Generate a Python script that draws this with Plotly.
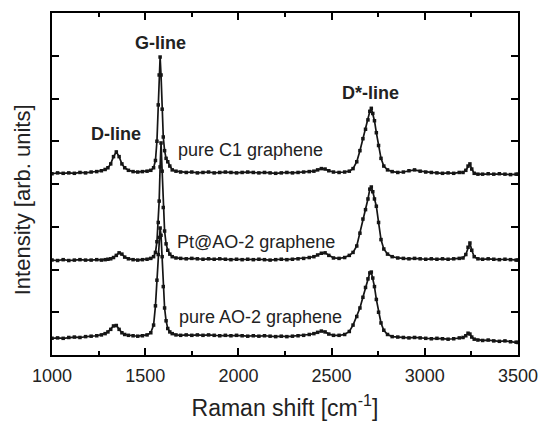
import plotly.graph_objects as go

# Raman shift grid (cm^-1)
raman_shift = [
    1000, 1030, 1060, 1090, 1120, 1150, 1180, 1210, 1240,
    1265, 1285, 1300, 1315, 1330, 1345, 1360, 1375, 1390, 1410,
    1435, 1460, 1485, 1510, 1530, 1545, 1555,
    1563, 1570, 1575, 1580, 1585, 1591, 1597, 1604, 1612, 1621, 1632, 1645,
    1665, 1690, 1720, 1750, 1780, 1810, 1840, 1870, 1900, 1930, 1960, 1990,
    2020, 2050, 2080, 2110, 2140, 2170, 2200, 2230, 2260, 2290, 2320, 2350, 2380,
    2405, 2425, 2445, 2465, 2485, 2510, 2540, 2570, 2595,
    2615, 2635, 2652, 2668, 2682, 2695, 2705, 2713, 2721, 2730, 2740, 2752, 2765, 2780, 2800, 2825,
    2855, 2885, 2915, 2945, 2975, 3005, 3035, 3065, 3095, 3125, 3155, 3185,
    3205, 3220, 3232, 3242, 3252, 3265, 3285,
    3310, 3340, 3370, 3400, 3430, 3460, 3490, 3500,
]

# pure C1 graphene (top, offset spectrum)
pure_c1 = [
    4.24, 4.26, 4.25, 4.26, 4.25, 4.27, 4.26, 4.28, 4.29,
    4.31, 4.34, 4.38, 4.47, 4.64, 4.75, 4.64, 4.47, 4.38, 4.32,
    4.29, 4.28, 4.29, 4.30, 4.32, 4.38, 4.55,
    5.00, 5.85, 6.55, 6.97, 6.55, 5.75, 5.10, 4.78, 4.60, 4.52, 4.42, 4.33,
    4.30, 4.28, 4.27, 4.28, 4.26, 4.27, 4.28, 4.26, 4.27, 4.28, 4.27, 4.26,
    4.27, 4.28, 4.27, 4.26, 4.27, 4.26, 4.25, 4.26, 4.27, 4.26, 4.27, 4.28, 4.29,
    4.30, 4.33, 4.36, 4.35, 4.31, 4.28, 4.27, 4.28, 4.30,
    4.36, 4.52, 4.78, 5.06, 5.28, 5.50, 5.70, 5.77, 5.65, 5.48, 5.20, 4.90, 4.60, 4.42, 4.33, 4.29,
    4.27, 4.28, 4.31, 4.33, 4.30, 4.28, 4.27, 4.26, 4.25, 4.26, 4.25, 4.27,
    4.27, 4.32, 4.42, 4.47, 4.35, 4.25, 4.23,
    4.23, 4.24, 4.23, 4.24, 4.23, 4.22, 4.23, 4.23,
]

# Pt@AO-2 graphene (middle)
pt_ao2 = [
    2.22, 2.21, 2.23, 2.21, 2.22, 2.23, 2.22, 2.22, 2.23,
    2.22, 2.23, 2.24, 2.25, 2.28, 2.33, 2.39, 2.36, 2.29, 2.25,
    2.23, 2.22, 2.23, 2.24, 2.26, 2.30, 2.40,
    2.65, 3.10, 3.60, 4.40, 4.96, 4.30, 3.45, 2.90, 2.60, 2.45, 2.36, 2.30,
    2.27, 2.26, 2.25, 2.26, 2.25, 2.24, 2.25, 2.24, 2.25, 2.24, 2.23, 2.24,
    2.23, 2.24, 2.23, 2.24, 2.23, 2.22, 2.23, 2.24, 2.23, 2.24, 2.25, 2.26, 2.28,
    2.30, 2.34, 2.38, 2.39, 2.33, 2.27, 2.26, 2.28, 2.33,
    2.40, 2.55, 2.85, 3.18, 3.40, 3.65, 3.88, 3.93, 3.82, 3.65, 3.48, 3.10, 2.70, 2.48, 2.36, 2.30,
    2.27, 2.26, 2.25, 2.26, 2.25, 2.24, 2.25, 2.24, 2.25, 2.24, 2.25, 2.26,
    2.27, 2.35, 2.52, 2.62, 2.45, 2.30, 2.25,
    2.24, 2.25, 2.24, 2.23, 2.24, 2.23, 2.22, 2.22,
]

# pure AO-2 graphene (bottom)
pure_ao2 = [
    0.39, 0.40, 0.39, 0.41, 0.42, 0.41, 0.43, 0.44, 0.45,
    0.47, 0.50, 0.54, 0.60, 0.68, 0.69, 0.60, 0.52, 0.48, 0.46,
    0.45, 0.44, 0.45, 0.47, 0.52, 0.70, 1.15,
    1.75, 2.35, 2.75, 2.97, 2.80, 2.30, 1.60, 1.10, 0.80, 0.62, 0.54, 0.50,
    0.47, 0.46, 0.47, 0.46, 0.47, 0.46, 0.47, 0.46, 0.45, 0.46, 0.45, 0.46,
    0.45, 0.44, 0.45, 0.44, 0.45, 0.44, 0.43, 0.44, 0.43, 0.44, 0.45, 0.46, 0.48,
    0.50, 0.53, 0.56, 0.54, 0.49, 0.46, 0.46, 0.48, 0.55,
    0.70, 0.90, 1.10, 1.35, 1.58, 1.78, 1.92, 1.94, 1.80, 1.60, 1.30, 1.00, 0.75, 0.58, 0.48, 0.43,
    0.42, 0.41, 0.40, 0.41, 0.40, 0.39, 0.38, 0.39, 0.38, 0.37, 0.38, 0.40,
    0.41, 0.45, 0.51, 0.49, 0.42, 0.37, 0.35,
    0.34, 0.35, 0.33, 0.32, 0.33, 0.31, 0.30, 0.29,
]

series = [pure_c1, pt_ao2, pure_ao2]

# text labels: (text, x, y, anchor, bold)
labels = [
    ("G-line", 1580, 7.30, "center", True),
    ("D-line", 1346, 5.17, "center", True),
    ("D*-line", 2709, 6.13, "center", True),
    ("pure C1 graphene", 1665, 4.80, "left", False),
    ("Pt@AO-2 graphene", 1660, 2.64, "left", False),
    ("pure AO-2 graphene", 1671, 0.89, "left", False),
]

FONT = "Liberation Sans, Arial, Helvetica, sans-serif"
INK = "#151515"
TXT = "#222"

fig = go.Figure()
for ys in series:
    fig.add_trace(go.Scatter(
        x=raman_shift, y=ys, mode="lines+markers",
        line=dict(color=INK, width=1.7),
        marker=dict(symbol="square", size=3.5, color=INK),
        showlegend=False, hoverinfo="skip",
    ))

for text, x, y, anchor, bold in labels:
    fig.add_annotation(
        x=x, y=y, xref="x", yref="y", text=f"<b>{text}</b>" if bold else text,
        showarrow=False, xanchor=anchor, yanchor="middle",
        font=dict(family=FONT, size=18, color=TXT),
    )

# y-axis title as rotated annotation (positioned like the reference)
fig.add_annotation(
    x=-0.064, y=0.453, xref="paper", yref="paper", text="Intensity [arb. units]",
    textangle=-90, showarrow=False, xanchor="center", yanchor="middle",
    font=dict(family=FONT, size=22, color=TXT),
)

axis_common = dict(
    showline=True, linewidth=2, linecolor="black", mirror="ticks",
    ticks="inside", ticklen=7, tickwidth=1.5, tickcolor="black",
    showgrid=False, zeroline=False, automargin=False,
)

fig.update_xaxes(
    range=[1000, 3500], dtick=500, tick0=1000,
    minor=dict(dtick=250, ticks="inside", ticklen=4, tickwidth=1.5, tickcolor="black"),
    tickfont=dict(family=FONT, size=18, color=TXT), ticklabelstandoff=3,
    ticklabeloverflow="allow",
    title=dict(text="Raman shift [cm<sup>-1</sup>]", font=dict(family=FONT, size=23, color=TXT), standoff=15),
    **axis_common,
)
fig.update_yaxes(
    range=[0, 8], dtick=1, tick0=0, showticklabels=False,
    **axis_common,
)

fig.update_layout(
    width=538, height=422,
    margin=dict(l=52, r=20, t=13, b=67),
    paper_bgcolor="white", plot_bgcolor="white",
)

fig.write_html("out.html")
